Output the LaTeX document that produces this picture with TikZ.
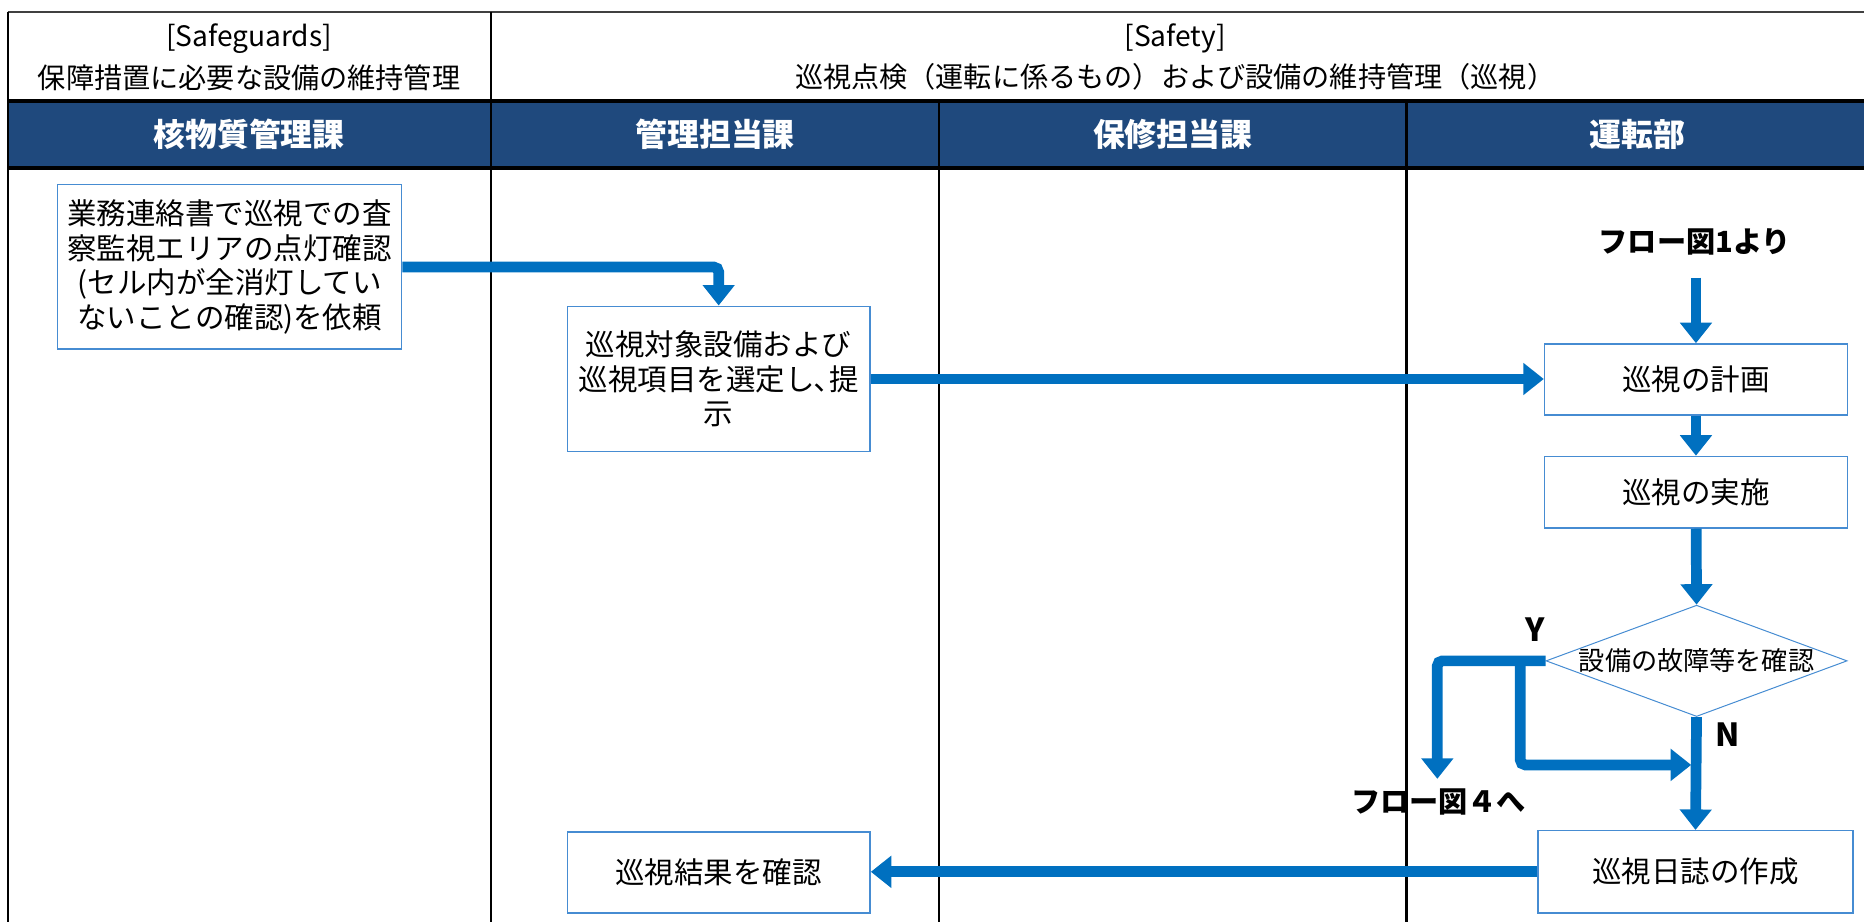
\documentclass[tikz,border=0pt]{standalone}
\usepackage{fontspec}
\setmainfont{Noto Sans CJK JP}
\usetikzlibrary{shapes.geometric, arrows.meta, positioning, calc}
\definecolor{Header}{RGB}{31, 73, 125}
\definecolor{Flow}{RGB}{0, 112, 192}
\definecolor{Frame}{RGB}{70, 140, 210}

\begin{document}
\begin{tikzpicture}[x=0.025cm, y=-0.025cm,
    box/.style={draw=Frame, line width=0.9pt, fill=white, align=center, inner sep=0pt,
        font=\fontsize{17.6}{20.6}\selectfont},
    flow/.style={draw=Flow, line width=6.4pt, rounded corners=3pt,
        -{Triangle[length=4.3mm, width=6.5mm]}},
    lane/.style={font=\bfseries\fontsize{19}{22}\selectfont, text=white},
    title/.style={align=center, font=\fontsize{16.8}{24.6}\selectfont},
    tag/.style={font=\bfseries\fontsize{17.4}{20}\selectfont},
    grid/.style={line width=1.4pt}]
    \useasboundingbox (0,0) rectangle (1564,774);

    % table
    \fill[Header] (6.5,85) rectangle (1564,141);
    \draw[black!75, line width=0.8pt] (6.5,10) -- (1564,10);
    \draw[grid] (6.5,10) -- (6.5,774);
    \draw[grid] (412,10) -- (412,774);
    \draw[grid] (788,85) -- (788,774);
    \draw[grid] (1180,85) -- (1180,774);
    \draw[line width=2.2pt] (6.5,85) -- (1564,85);
    \draw[line width=2.2pt] (6.5,141) -- (1564,141);

    \node[title] (sg) at (209,48) {[Safeguards]\\保障措置に必要な設備の維持管理};
    \node[title] (sf) at (986,48) {[Safety]\\巡視点検（運転に係るもの）および設備の維持管理（巡視）};

    \node[lane] (lnuc) at (209,113) {核物質管理課};
    \node[lane] (lmgr) at (600,113) {管理担当課};
    \node[lane] (lmnt) at (984,113) {保修担当課};
    \node[lane] (lops) at (1374,113) {運転部};

    % boxes
    \node[box, minimum width=7.215cm, minimum height=3.45cm] (req) at (192.7,224)
        {業務連絡書で巡視での査\\察監視エリアの点灯確認\\(セル内が全消灯してい\\ないことの確認)を依頼};
    \node[box, minimum width=6.35cm, minimum height=3.05cm] (sel) at (603,318)
        {巡視対象設備および\\巡視項目を選定し､提\\示};
    \node[box, minimum width=6.35cm, minimum height=1.485cm] (plan) at (1423,318.3) {巡視の計画};
    \node[box, minimum width=6.35cm, minimum height=1.5cm] (exec) at (1423,413) {巡視の実施};
    \node[diamond, draw=Frame, line width=0.6pt, minimum width=6.315cm, minimum height=2.335cm,
        inner sep=0pt] (chk) at (1423.5,554.5) {};
    \node[font=\fontsize{15.6}{18}\selectfont] (chktxt) at (chk) {設備の故障等を確認};
    \node[box, minimum width=6.6cm, minimum height=1.725cm] (log) at (1422.6,731.5) {巡視日誌の作成};
    \node[box, minimum width=6.35cm, minimum height=1.7cm] (res) at (603,732) {巡視結果を確認};

    % labels
    \node[tag] (from1) at (1422,203) {フロー図1より};
    \node[tag] (to4txt) at (1207,672.5) {フロー図４へ};
    \node[tag, font=\bfseries\fontsize{19}{20}\selectfont] (yes) at (1288,528) {Y};
    \node[tag, font=\bfseries\fontsize{19}{20}\selectfont] (no) at (1450,616.6) {N};

    \coordinate (in1) at (1423,233);
    \coordinate (to4) at (1206,653.5);
    \coordinate (ybr) at (1275.6,554.5);
    \coordinate (merge) at (1419,641.8);

    % connectors
    \draw[flow] (req.east) -| (sel.north);
    \draw[flow] (sel.east) -- (sel.east -| plan.west);
    \draw[flow] (in1) -- (plan.north);
    \draw[flow] (plan) -- (exec);
    \draw[flow] (exec) -- (chk.north);
    \draw[flow] (chk.south) -- (log.north);
    \draw[flow] (chk.west) -| (to4);
    \draw[flow] (ybr) |- (merge);
    \draw[flow] (log.west) -- (log.west -| res.east);
\end{tikzpicture}
\end{document}
